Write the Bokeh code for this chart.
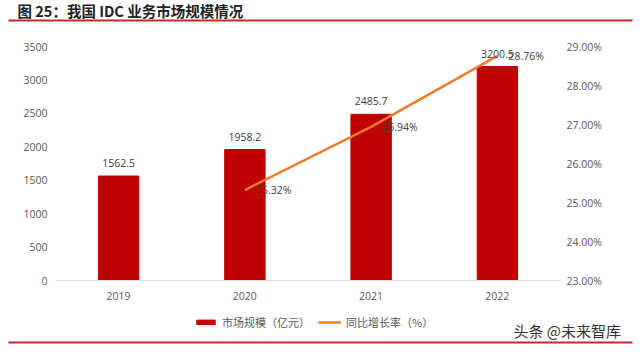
from bokeh.plotting import figure
from bokeh.layouts import column
from bokeh.models import (FactorRange, Range1d, LinearAxis, FixedTicker, PrintfTickFormatter,
                          Legend, LegendItem, Label, BoxAnnotation, ColumnDataSource)
from bokeh.embed import file_html
from bokeh.resources import INLINE
from bokeh.core.properties import value

years = ["2019", "2020", "2021", "2022"]
market = [1562.5, 1958.2, 2485.7, 3200.5]
growth_years = ["2020", "2021", "2022"]
growth = [25.32, 26.94, 28.76]
left_ticks = [0, 500, 1000, 1500, 2000, 2500, 3000, 3500]
right_ticks = [23, 24, 25, 26, 27, 28, 29]

title_text = "图 25：我国 IDC 业务市场规模情况"
bar_name = "市场规模（亿元）"
line_name = "同比增长率（%）"
watermark = "头条 @未来智库"

NUM_FONT = "Open Sans"
CJK = "Noto Sans CJK SC"
GRAY = "#595959"
BAR_COLOR = "#C00000"
LINE_COLOR = "#ED7D31"
RULE_COLOR = "#B8312F"


def blank(height):
    f = figure(width=640, height=height, output_backend="svg", toolbar_location=None,
               x_range=Range1d(0, 640), y_range=Range1d(0, height),
               x_axis_type=None, y_axis_type=None, min_border=0, frame_align=False)
    f.outline_line_color = None
    f.grid.visible = False
    f.background_fill_color = "white"
    f.border_fill_color = "white"
    return f


# ---- top strip: title + rule
top = blank(24)
top.add_layout(Label(x=17, y=14, text=title_text, text_font=CJK, text_font_size="14.5px",
                     text_font_style="bold", text_color="#222222", text_baseline="middle"))
top.add_layout(BoxAnnotation(left=8, right=632, bottom=3, top=5, fill_color=RULE_COLOR,
                             fill_alpha=1, line_color=None))

# ---- main chart
p = figure(width=640, height=286, output_backend="svg", toolbar_location=None,
           x_range=FactorRange(*years), y_range=Range1d(0, 3500), frame_align=False,
           min_border_left=55, min_border_right=80, min_border_top=22, min_border_bottom=30)
p.extra_y_ranges = {"pct": Range1d(23, 29)}
p.outline_line_color = None
p.background_fill_color = "white"
p.border_fill_color = "white"
p.xgrid.grid_line_color = None
p.ygrid.grid_line_color = None

bar_src = ColumnDataSource(dict(x=years, top=market, lbl=[f"{v:.1f}" for v in market]))
line_src = ColumnDataSource(dict(x=growth_years, y=growth, lbl=[f"{v:.2f}%" for v in growth]))

p.vbar(x="x", top="top", width=0.32, source=bar_src, fill_color=BAR_COLOR, line_color=BAR_COLOR)
p.line(x="x", y="y", source=line_src, y_range_name="pct", line_color=LINE_COLOR, line_width=2.5)

p.text(x="x", y="top", text="lbl", source=bar_src, text_align="center", text_baseline="bottom",
       y_offset=-9, text_font=value(NUM_FONT), text_font_size="10.5px", text_color="#404040")
p.text(x="x", y="y", text="lbl", source=line_src, y_range_name="pct", text_align="left",
       text_baseline="middle", x_offset=11, text_font=value(NUM_FONT), text_font_size="10.5px",
       text_color="#404040")

ya = p.yaxis[0]
ya.ticker = FixedTicker(ticks=left_ticks)
ya.axis_line_color = None
ya.major_tick_line_color = None
ya.minor_tick_line_color = None
ya.major_label_standoff = 2
ya.major_label_text_font = NUM_FONT
ya.major_label_text_font_size = "10.5px"
ya.major_label_text_color = GRAY

ra = LinearAxis(y_range_name="pct", ticker=FixedTicker(ticks=right_ticks),
                formatter=PrintfTickFormatter(format="%.2f%%"))
ra.axis_line_color = None
ra.major_tick_line_color = None
ra.minor_tick_line_color = None
ra.major_label_standoff = 0
ra.major_label_text_font = NUM_FONT
ra.major_label_text_font_size = "10.5px"
ra.major_label_text_color = GRAY
p.add_layout(ra, "right")

xa = p.xaxis[0]
xa.axis_line_color = "#D9D9D9"
xa.major_tick_line_color = None
xa.minor_tick_line_color = None
xa.major_label_standoff = 5
xa.major_label_text_font = NUM_FONT
xa.major_label_text_font_size = "10.5px"
xa.major_label_text_color = GRAY

# ---- bottom strip: legend, watermark, rule
bot = blank(42)
nan = float("nan")
leg_bar = bot.vbar(x=[nan], top=[nan], width=1, fill_color=BAR_COLOR, line_color=BAR_COLOR)
leg_line = bot.line(x=[nan], y=[nan], line_color=LINE_COLOR, line_width=2.5)
legend = Legend(items=[LegendItem(label=bar_name, renderers=[leg_bar]),
                       LegendItem(label=line_name, renderers=[leg_line])],
                orientation="horizontal", location=(194, 22),
                border_line_color=None, background_fill_alpha=0,
                label_text_font=CJK, label_text_font_size="11px", label_text_color=GRAY,
                glyph_width=23, glyph_height=6, spacing=8, label_standoff=5, padding=1, margin=0)
bot.add_layout(legend, "center")
bot.add_layout(Label(x=513, y=22, text=watermark, text_font=CJK, text_font_size="15px",
                     text_color="#333333", text_baseline="middle"))
bot.add_layout(BoxAnnotation(left=8, right=632, bottom=9, top=11, fill_color=RULE_COLOR,
                             fill_alpha=1, line_color=None))

layout = column(top, p, bot, spacing=0)
open("out.html", "w").write(file_html(layout, INLINE))
